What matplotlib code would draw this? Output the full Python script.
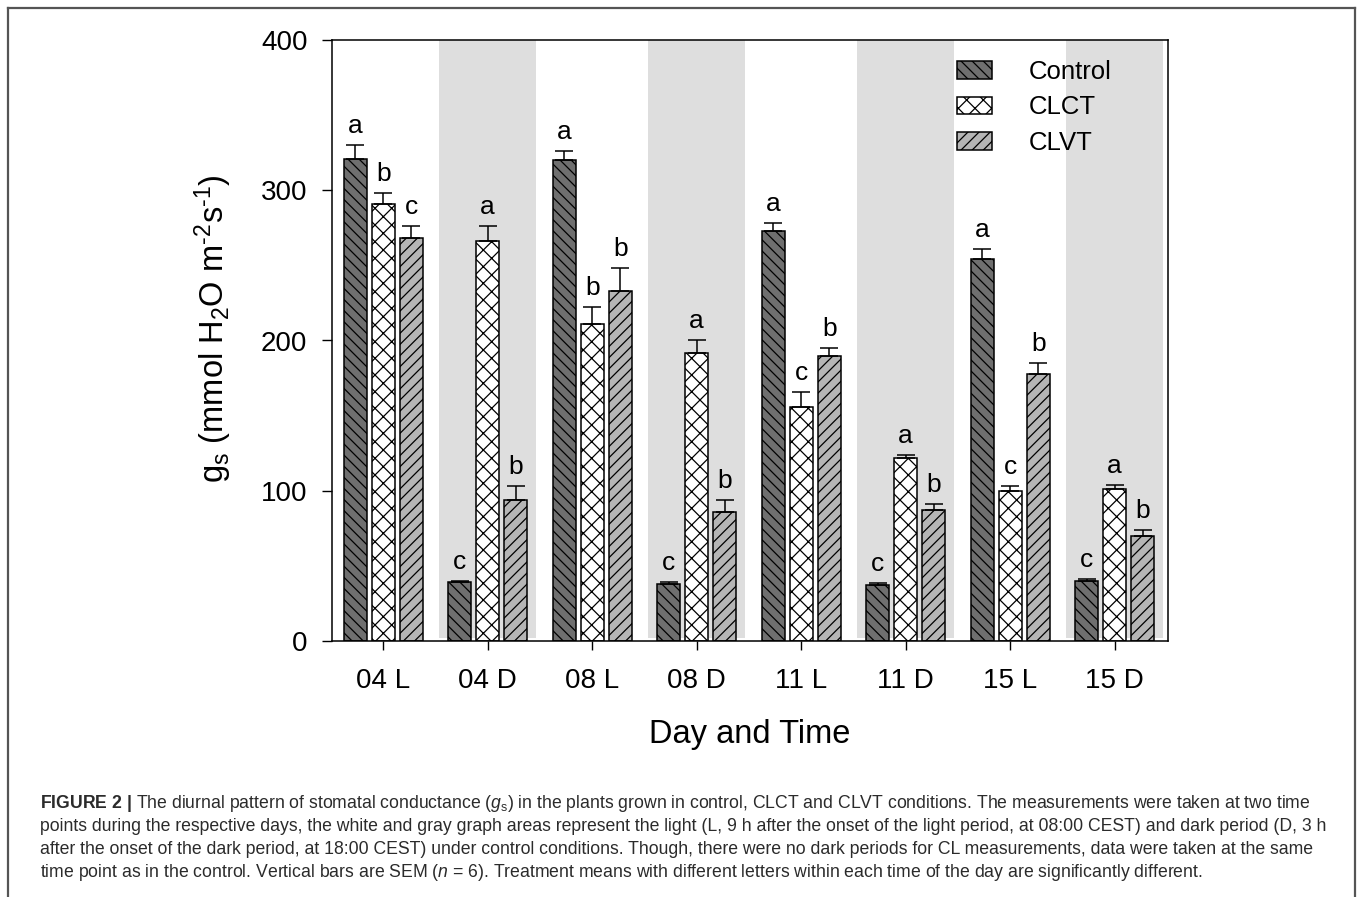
import numpy as np
import matplotlib.pyplot as plt
from matplotlib.lines import Line2D

plt.rcParams['font.family'] = ['Liberation Sans', 'DejaVu Sans']
plt.rcParams['mathtext.fontset'] = 'custom'
plt.rcParams['mathtext.rm'] = 'Liberation Sans'
plt.rcParams['mathtext.it'] = 'Liberation Sans:italic'
plt.rcParams['mathtext.bf'] = 'Liberation Sans:bold'
plt.rcParams['hatch.linewidth'] = 0.9

# Giorni e momenti di misura (L = luce, D = buio)
times = ['04 L', '04 D', '08 L', '08 D', '11 L', '11 D', '15 L', '15 D']
dark = [False, True, False, True, False, True, False, True]

# Conduttanza stomatica gs (mmol H2O m-2 s-1) e SEM
control = [321, 39, 320, 38, 273, 37, 254, 40]
control_err = [9, 1, 6, 1, 5, 1.5, 7, 1.5]
clct = [291, 266, 211, 192, 156, 122, 100, 101]
clct_err = [7, 10, 11, 8, 10, 2, 3, 3]
clvt = [268, 94, 233, 86, 190, 87, 178, 70]
clvt_err = [8, 9, 15, 8, 5, 4.5, 7, 4]

# Lettere dei test di confronto
control_let = ['a', 'c', 'a', 'c', 'a', 'c', 'a', 'c']
clct_let = ['b', 'a', 'b', 'a', 'c', 'a', 'c', 'a']
clvt_let = ['c', 'b', 'b', 'b', 'b', 'b', 'b', 'b']

series = [
    ('Control', control, control_err, control_let, '#6f6f6f', '\\\\\\'),
    ('CLCT', clct, clct_err, clct_let, 'white', 'xx'),
    ('CLVT', clvt, clvt_err, clvt_let, '#b5b5b5', '///'),
]

W, H = 1358, 897
fig = plt.figure(figsize=(W / 100, H / 100), dpi=100)
ax = fig.add_axes([332 / W, 1 - 641 / H, 836 / W, 601 / H])

x = np.arange(len(times))
width = 0.22
offsets = [-0.268, 0, 0.268]

# Bande grigie per i periodi di buio
for xi, d in zip(x, dark):
    if d:
        ax.fill_between([xi - 0.465, xi + 0.465], 2, 400, color='#dedede',
                        lw=0, zorder=0)

handles = []
for (name, vals, err, lets, col, hatch), off in zip(series, offsets):
    b = ax.bar(x + off, vals, width, color=col, edgecolor='k', hatch=hatch,
               linewidth=1.1, label=name, zorder=2)
    handles.append(b)
    ax.errorbar(x + off, vals, yerr=[np.zeros(len(vals)), err], fmt='none',
                ecolor='k', elinewidth=1.1, capsize=6.5, capthick=1.1, zorder=3)
    for xi, v, e, l in zip(x + off, vals, err, lets):
        ax.text(xi, v + e + 8, l, ha='center', va='baseline', fontsize=19)

ax.set_xlim(-0.49, 7.51)
ax.set_ylim(0, 400)
ax.set_yticks([0, 100, 200, 300, 400])
ax.set_xticks(x)
ax.set_xticklabels(times)
ax.tick_params(axis='y', labelsize=20, length=7.2, width=1, pad=10.5, direction='out')
ax.tick_params(axis='x', labelsize=20, length=6.5, width=1, pad=13, direction='out')
for s in ax.spines.values():
    s.set_linewidth(1.1)

ax.set_xlabel('Day and Time', fontsize=23.5)
ax.xaxis.set_label_coords(0.5, -0.156)
ax.xaxis.label.set_va('center')
ax.set_ylabel('g$_{\\rm s}$ (mmol H$_2$O m$^{\u20102}$s$^{\u20101}$)', fontsize=23.5)
ax.yaxis.set_label_coords(-0.142, 0.52)
ax.yaxis.label.set_va('center')

ax.legend(handles=handles, loc='upper left', bbox_to_anchor=(0.7476, 0.967),
          frameon=False, fontsize=18.5, handlelength=1.38, handleheight=0.67,
          handletextpad=1.4, labelspacing=0.45, borderpad=0, borderaxespad=0)

# Cornice esterna
fr = dict(color='#555555', lw=1.6, transform=fig.transFigure)
fig.add_artist(Line2D([8 / W, 8 / W], [0, 1 - 8 / H], **fr))
fig.add_artist(Line2D([1355 / W, 1355 / W], [0, 1 - 8 / H], **fr))
fig.add_artist(Line2D([8 / W, 1355 / W], [1 - 8 / H, 1 - 8 / H], **fr))

# Didascalia
caption = [
    r'$\bf{FIGURE\ 2\ |}$ The diurnal pattern of stomatal conductance ($\it{g}_{\rm s}$) in the plants grown in control, CLCT and CLVT conditions. The measurements were taken at two time',
    'points during the respective days, the white and gray graph areas represent the light (L, 9 h after the onset of the light period, at 08:00 CEST) and dark period (D, 3 h',
    'after the onset of the dark period, at 18:00 CEST) under control conditions. Though, there were no dark periods for CL measurements, data were taken at the same',
    r'time point as in the control. Vertical bars are SEM ($\it{n}$ = 6). Treatment means with different letters within each time of the day are significantly different.',
]
for i, line in enumerate(caption):
    fig.text(40 / W, 1 - (803 + 23 * i) / H, line, fontsize=12.7, color='#2b2b2b',
             ha='left', va='center')

fig.savefig('out.png', dpi=100)
